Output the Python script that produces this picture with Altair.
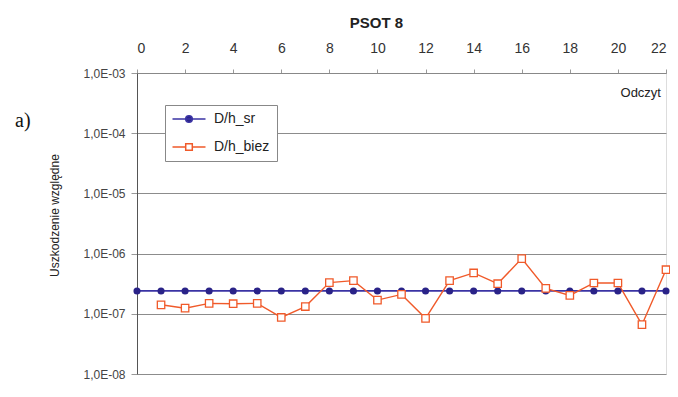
import altair as alt
import pandas as pd

# ---- data ----
odczyt_sr = [0, 1, 2, 3, 4, 5, 6, 7, 8, 9, 10, 11, 12, 13, 14, 15, 16, 17, 18, 19, 20, 21, 22]
dh_sr = [2.4e-7, 2.4e-7, 2.4e-7, 2.4e-7, 2.4e-7, 2.4e-7, 2.4e-7, 2.4e-7, 2.4e-7, 2.4e-7, 2.4e-7, 2.4e-7,
         2.4e-7, 2.4e-7, 2.4e-7, 2.4e-7, 2.4e-7, 2.4e-7, 2.4e-7, 2.4e-7, 2.4e-7, 2.4e-7, 2.4e-7]
odczyt_biez = [1, 2, 3, 4, 5, 6, 7, 8, 9, 10, 11, 12, 13, 14, 15, 16, 17, 18, 19, 20, 21, 22]
dh_biez = [1.41e-7, 1.24e-7, 1.49e-7, 1.47e-7, 1.49e-7, 8.7e-8, 1.32e-7, 3.3e-7, 3.55e-7, 1.69e-7, 2.1e-7,
           8.4e-8, 3.55e-7, 4.77e-7, 3.16e-7, 8.25e-7, 2.64e-7, 2.02e-7, 3.25e-7, 3.25e-7, 6.6e-8, 5.4e-7]
series_names = ["D/h_sr", "D/h_biez"]
x_ticks = [0, 2, 4, 6, 8, 10, 12, 14, 16, 18, 20, 22]
y_ticks = [1e-8, 1e-7, 1e-6, 1e-5, 1e-4, 1e-3]

BLUE_LINE = "#3a33a4"
BLUE_PT = "#2a2388"
ORANGE = "#f05a2a"
FONT = "Liberation Sans"

df_sr = pd.DataFrame({"x": odczyt_sr, "value": dh_sr, "series": series_names[0]})
df_bz = pd.DataFrame({"x": odczyt_biez, "value": dh_biez, "series": series_names[1]})
df_leg = pd.DataFrame({"x": [0, 0], "value": [1e-12, 1e-12], "series": series_names})
df_note = pd.DataFrame({"x": [22], "value": [4.6e-4], "label": ["Odczyt"]})

x_enc = alt.X("x:Q",
              scale=alt.Scale(domain=[0, 22], nice=False, zero=False),
              axis=alt.Axis(orient="top", values=x_ticks, title="PSOT 8",
                            titleFont=FONT, titleFontSize=15, titleFontWeight="bold", titleColor="#222",
                            titleX=239, titleY=-51, titleBaseline="middle", titleAlign="center",
                            labelFont=FONT, labelFontSize=14, labelColor="#333", labelPadding=14,
                            tickSize=4, tickColor="#999", domainColor="#888", grid=False))
y_scale = alt.Scale(type="log", domain=[1e-8, 1e-3], nice=False)
y_enc = alt.Y("value:Q", scale=y_scale,
              axis=alt.Axis(values=y_ticks, title="Uszkodzenie względne",
                            labelExpr="'1,0E-0' + round(-log(datum.value)/LN10)",
                            titleFont=FONT, titleFontSize=12, titleFontWeight="normal", titleColor="#222",
                            titleX=-83, titleY=142, titleAngle=270, titleBaseline="middle", titleAlign="center",
                            labelFont=FONT, labelFontSize=12, labelColor="#444", labelPadding=6,
                            tickSize=6, tickColor="#999", domainColor="#555",
                            grid=True, gridColor="#8c8c8c", gridWidth=1))

line_sr = alt.Chart(df_sr).mark_line(color=BLUE_LINE, strokeWidth=1.6).encode(x=x_enc, y=y_enc)
pts_sr = alt.Chart(df_sr).mark_point(filled=True, color=BLUE_PT, size=50, opacity=1, shape="circle").encode(x=x_enc, y=y_enc)
line_bz = alt.Chart(df_bz).mark_line(color=ORANGE, strokeWidth=1.4).encode(x=x_enc, y=y_enc)
pts_bz = alt.Chart(df_bz).mark_point(shape="square", size=55, stroke=ORANGE, fill="white",
                                     filled=False, strokeWidth=1.3, opacity=1).encode(
    x=x_enc, y=y_enc, fill=alt.value("white"))

path_sr = "M-3,0L3,0M0.6,0A0.6,0.6,0,1,1,-0.6,0A0.6,0.6,0,1,1,0.6,0Z"
path_bz = "M-3,0L-0.6,0M0.6,0L3,0M-0.6,-0.6L0.6,-0.6L0.6,0.6L-0.6,0.6Z"

leg = alt.Legend(title=None, orient="none", legendX=28, legendY=32,
                 fillColor="white", strokeColor="#888", padding=7,
                 labelFont=FONT, labelFontSize=14, labelColor="#222",
                 symbolSize=121, symbolStrokeWidth=1.5, symbolOffset=10,
                 labelOffset=18, rowPadding=14)

legend_layer = alt.Chart(df_leg).mark_point(clip=True, opacity=1, strokeWidth=1.5).encode(
    x=x_enc, y=y_enc,
    color=alt.Color("series:N", scale=alt.Scale(domain=series_names, range=[BLUE_LINE, ORANGE]), legend=leg),
    fill=alt.Fill("series:N", scale=alt.Scale(domain=series_names, range=[BLUE_PT, "white"]), legend=leg),
    shape=alt.Shape("series:N", scale=alt.Scale(domain=series_names, range=[path_sr, path_bz]), legend=leg),
)

note = alt.Chart(df_note).mark_text(align="right", baseline="middle", dx=-5, font=FONT,
                                    fontSize=13, color="#222").encode(x=x_enc, y=y_enc, text="label:N")

chart = alt.layer(line_sr, line_bz, pts_sr, pts_bz, legend_layer, note).properties(
    width=529, height=301,
    padding={"left": 129, "top": 65, "right": 4, "bottom": 15},
    autosize=alt.AutoSizeParams(type="none"),
    title=alt.TitleParams(text="a)", anchor="start", frame="group", orient="top",
                          font="Liberation Serif", fontSize=20, fontWeight="normal", color="#111",
                          dx=-122, dy=130, baseline="middle"),
).configure_view(stroke="#999", strokeWidth=1).configure(background="white")

chart.save("out.html", embed_options={"renderer": "svg", "actions": False})
